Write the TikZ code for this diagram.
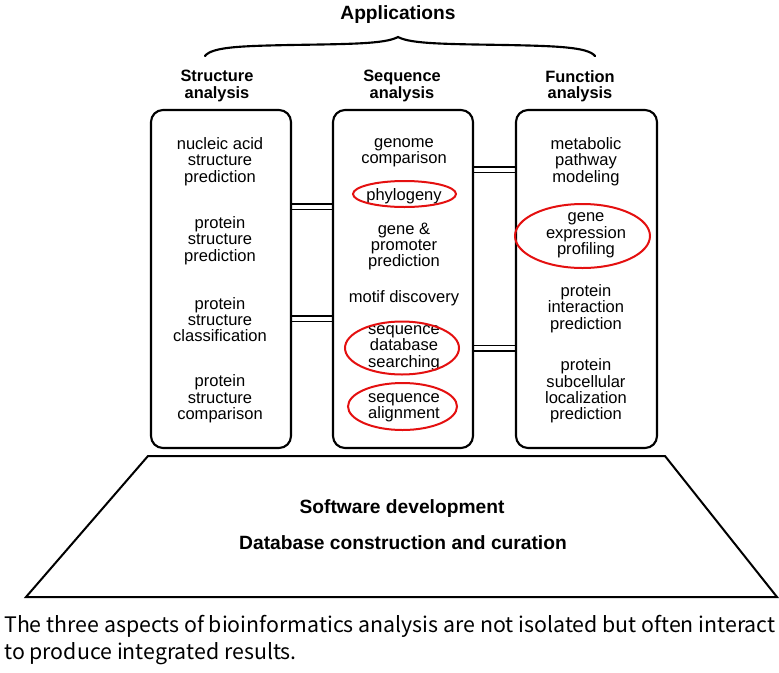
\documentclass[tikz,border=0pt]{standalone}
\usepackage{fontspec}
\setmainfont{Liberation Sans}
\newfontfamily\capfont{Noto Sans CJK SC}
\usetikzlibrary{shapes.geometric}
\definecolor{ringred}{RGB}{228,16,16}
\begin{document}
\begin{tikzpicture}[x=0.75pt,y=-0.75pt,
  colbox/.style={draw, line width=1.6pt, rounded corners=9pt, minimum width=105pt, minimum height=253.5pt, inner sep=0pt},
  item/.style={align=center, font=\fontsize{12.4}{12.3}\selectfont, inner sep=0pt},
  head/.style={align=center, font=\fontsize{12.3}{12.3}\selectfont\bfseries, inner sep=0pt},
  big/.style={align=center, font=\fontsize{14.4}{16}\selectfont\bfseries, inner sep=0pt},
  ring/.style={draw=ringred, line width=1.5pt, ellipse, inner sep=0pt},
  link/.style={line width=0.9pt},
  trap/.style={line width=1.5pt, line join=miter}]
\useasboundingbox (0,0) rectangle (779,672);

% title and brace
\node[big] (app) at (398,14.5) {Applications};
\draw[line width=1.6pt, line cap=round]
  (205,56) .. controls (212,47) and (240,46) .. (290,45)
  .. controls (350,44) and (385,44) .. (398,37)
  .. controls (411,44) and (446,44) .. (506,45)
  .. controls (556,46) and (588,47) .. (595,56);

% headers
\node[head] (hL) at (217,86) {Structure\\analysis};
\node[head] (hM) at (402,86) {Sequence\\analysis};
\node[head] (hR) at (580,86) {Function\\analysis};

% columns
\node[colbox] (L) at (221,279) {};
\node[colbox] (M) at (403,279) {};
\node[colbox, minimum width=105.75pt] (R) at (586.5,279) {};

% connectors (double lines)
\draw[link] (L.east |- 0,204) -- (M.west |- 0,204);
\draw[link] (L.east |- 0,209.5) -- (M.west |- 0,209.5);
\draw[link] (L.east |- 0,316) -- (M.west |- 0,316);
\draw[link] (L.east |- 0,321.5) -- (M.west |- 0,321.5);
\draw[link] (M.east |- 0,167) -- (R.west |- 0,167);
\draw[link] (M.east |- 0,172.5) -- (R.west |- 0,172.5);
\draw[link] (M.east |- 0,345.5) -- (R.west |- 0,345.5);
\draw[link] (M.east |- 0,351) -- (R.west |- 0,351);

% left column items
\node[item] (l1) at (220,161.5) {nucleic acid\\structure\\prediction};
\node[item] (l2) at (220,240.5) {protein\\structure\\prediction};
\node[item] (l3) at (220,319.5) {protein\\structure\\classification};
\node[item] (l4) at (220,399) {protein\\structure\\comparison};

% middle column items
\node[item] (m1) at (404,153) {genome\\comparison};
\node[item] (m2) at (404,196) {phylogeny};
\node[item] (m3) at (404,246.5) {gene \&\\promoter\\prediction};
\node[item] (m4) at (404,298) {motif discovery};
\node[item] (m5) at (404,348) {sequence\\database\\searching};
\node[item] (m6) at (404,407.5) {sequence\\alignment};

% right column items
\node[item] (r1) at (586,161.5) {metabolic\\pathway\\modeling};
\node[item] (r2) at (586,235.5) {gene\\expression\\profiling};
\node[item] (r3) at (586,308.5) {protein\\interaction\\prediction};
\node[item] (r4) at (586,391) {protein\\subcellular\\localization\\prediction};

% red highlight rings
\node[ring, minimum width=77.25pt, minimum height=19.5pt] (e1) at (404.5,194) {};
\node[ring, minimum width=85.5pt, minimum height=39.75pt] (e2) at (402,348) {};
\node[ring, minimum width=81.75pt, minimum height=35.25pt] (e3) at (402.5,406.5) {};
\node[ring, minimum width=101.25pt, minimum height=48pt] (e4) at (582.5,236) {};

% base trapezoid
\coordinate (t1) at (148,456);
\coordinate (t2) at (665,456);
\coordinate (t3) at (777,597);
\coordinate (t4) at (26,597);
\draw[trap] (t1) -- (t2) -- (t3) -- (t4) -- cycle;
\node[big] (b1) at (402,509) {Software development};
\node[big] (b2) at (403,543) {Database construction and curation};

% caption
\node[anchor=west, align=left, inner sep=0pt, font=\capfont\fontsize{16}{20.3}\selectfont] (cap) at (4,640)
  {The three aspects of bioinformatics analysis are not isolated but often interact\\to produce integrated results.};
\end{tikzpicture}
\end{document}
